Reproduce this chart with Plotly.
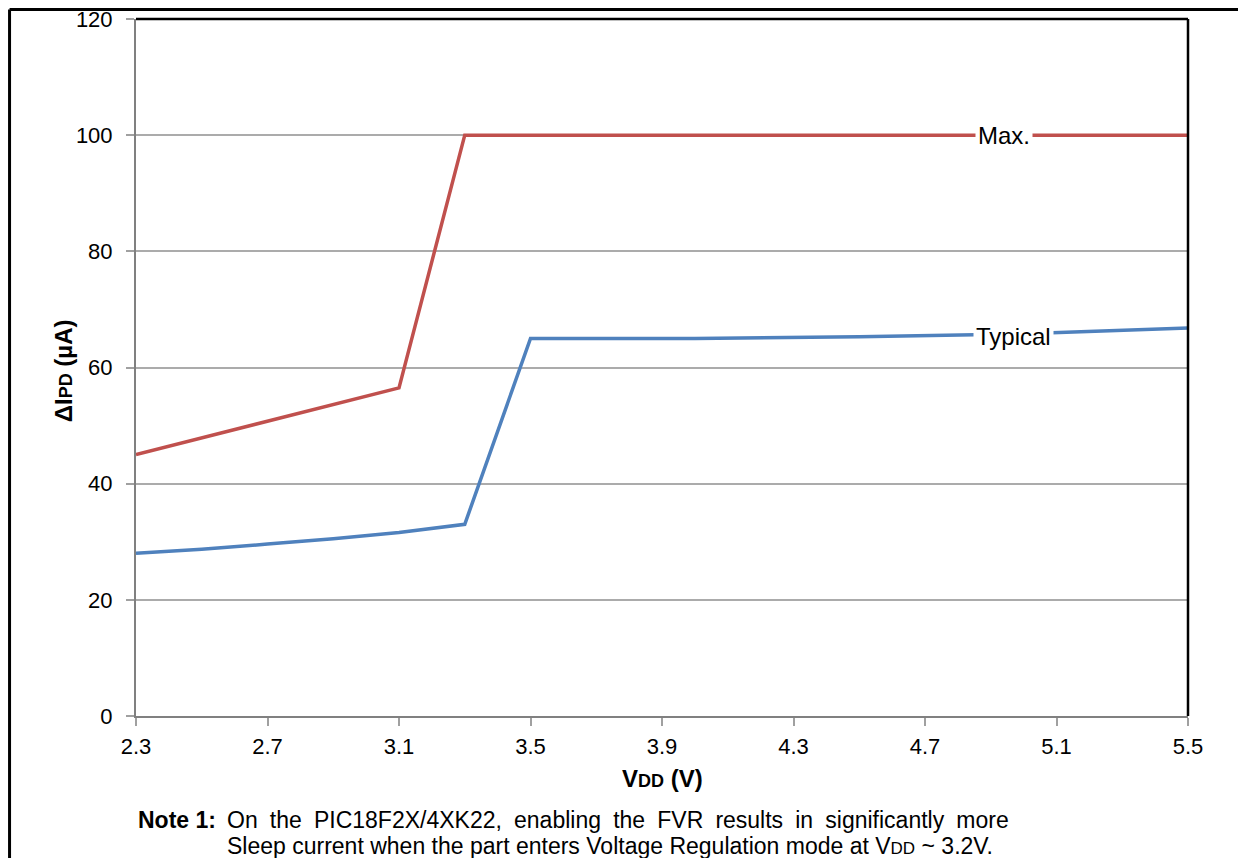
import plotly.graph_objects as go

# data
vdd_max = [2.3, 3.1, 3.3, 5.5]
ipd_max = [45.0, 56.5, 100.0, 100.0]

vdd_typ = [2.3, 2.5, 2.7, 2.9, 3.1, 3.3, 3.5, 4.0, 4.5, 5.0, 5.5]
ipd_typ = [28.0, 28.7, 29.6, 30.5, 31.6, 33.0, 65.0, 65.0, 65.3, 65.8, 66.8]

x_ticks = [2.3, 2.7, 3.1, 3.5, 3.9, 4.3, 4.7, 5.1, 5.5]
y_ticks = [0, 20, 40, 60, 80, 100, 120]

font = "Liberation Sans, Arial, sans-serif"
small = "<span style='font-size:18px'>{}</span>"
small_note = "<span style='font-size:17px'>{}</span>"

fig = go.Figure()
fig.add_trace(go.Scatter(x=vdd_max, y=ipd_max, mode="lines", name="Max.",
                         line=dict(color="#C0504D", width=3.5), showlegend=False))
fig.add_trace(go.Scatter(x=vdd_typ, y=ipd_typ, mode="lines", name="Typical",
                         line=dict(color="#4F81BD", width=3.5), showlegend=False))

# series labels sitting on the lines
fig.add_annotation(x=4.94, y=100, text="Max.", showarrow=False, bgcolor="white",
                   font=dict(family=font, size=24, color="black"), borderpad=2)
fig.add_annotation(x=4.97, y=65.3, text="Typical", showarrow=False, bgcolor="white",
                   font=dict(family=font, size=24, color="black"), borderpad=2)

# axis titles
fig.add_annotation(xref="paper", yref="paper", x=-0.0694, y=0.496, textangle=-90,
                   xanchor="center", yanchor="middle",
                   text="<b>ΔI" + small.format("PD") + " (µA)</b>",
                   showarrow=False, font=dict(family=font, size=24, color="black"))
fig.add_annotation(xref="paper", yref="paper", x=0.5, y=-0.089,
                   xanchor="center", yanchor="middle",
                   text="<b>V" + small.format("DD") + " (V)</b>",
                   showarrow=False, font=dict(family=font, size=24, color="black"))

# footnote
gap = " \u2005"
line1 = gap.join("On the PIC18F2X/4XK22, enabling the FVR results in significantly more".split(" "))
line2 = "Sleep current when the part enters Voltage Regulation mode at V" + small_note.format("DD") + " ~ 3.2V."
fig.add_annotation(xref="paper", yref="paper", x=0.077, y=-0.1492, xanchor="right", yanchor="middle",
                   text="<b>Note 1:</b>", showarrow=False, borderpad=0,
                   font=dict(family=font, size=23, color="black"))
fig.add_annotation(xref="paper", yref="paper", x=0.0856, y=-0.1492, xanchor="left", yanchor="middle",
                   text=line1, showarrow=False, borderpad=0,
                   font=dict(family=font, size=23, color="black"))
fig.add_annotation(xref="paper", yref="paper", x=0.0856, y=-0.1858, xanchor="left", yanchor="middle",
                   text=line2, showarrow=False, borderpad=0,
                   font=dict(family=font, size=23, color="black"))

# black top/right border of the plot area
fig.add_shape(type="line", xref="paper", yref="paper", x0=0, x1=1, y0=1, y1=1,
              line=dict(color="black", width=2.5))
fig.add_shape(type="line", xref="paper", yref="paper", x0=1, x1=1, y0=0, y1=1,
              line=dict(color="black", width=2.5))

# outer frame (left and top only)
fig.add_shape(type="line", xref="paper", yref="paper", x0=-0.1202, x1=-0.1202, y0=-0.3, y1=1.0136,
              line=dict(color="black", width=3))
fig.add_shape(type="line", xref="paper", yref="paper", x0=-0.1202, x1=1.1, y0=1.0136, y1=1.0136,
              line=dict(color="black", width=3))

fig.update_xaxes(range=[2.3, 5.5], tickvals=x_ticks, ticktext=[f"{v:.1f}" for v in x_ticks],
                 showgrid=False, zeroline=False, showline=True, linecolor="#808080", linewidth=2,
                 ticks="outside", ticklen=8, tickcolor="#A0A0A0", tickwidth=1.5, ticklabelstandoff=2,
                 ticklabeloverflow="allow", automargin=False,
                 tickfont=dict(family=font, size=22, color="black"))
fig.update_yaxes(range=[0, 120], tickvals=y_ticks, showgrid=True, gridcolor="#ABABAB", gridwidth=1.5,
                 zeroline=False, showline=True, linecolor="#808080", linewidth=2,
                 ticks="outside", ticklen=8, tickcolor="#A0A0A0", tickwidth=1.5, ticklabelstandoff=9,
                 ticklabeloverflow="allow", automargin=False,
                 tickfont=dict(family=font, size=22, color="black"))

fig.update_layout(width=1230, height=850, paper_bgcolor="white", plot_bgcolor="white",
                  margin=dict(l=128, r=50, t=11, b=142), showlegend=False)

fig.write_html("out.html")
